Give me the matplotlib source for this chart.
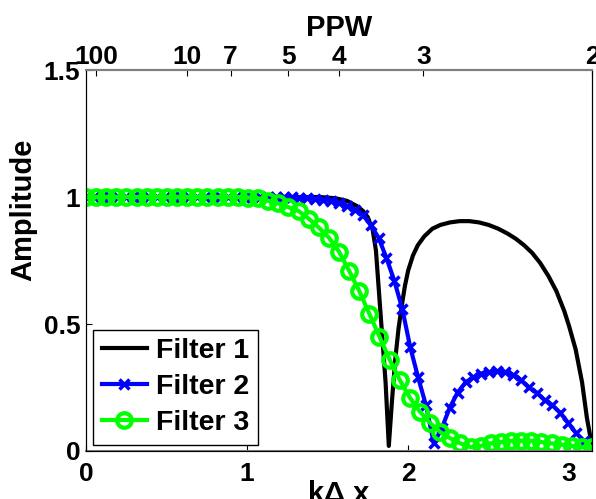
import numpy as np
import matplotlib.pyplot as plt

plt.rcParams['font.family'] = ['Liberation Sans', 'DejaVu Sans']
plt.rcParams['font.weight'] = 'bold'

# Filter 1 (plain black line)
kdx_f1 = [0.0, 0.5, 1.0, 1.3, 1.45, 1.55, 1.62, 1.68, 1.72, 1.75, 1.78, 1.80,
          1.83, 1.86, 1.88, 1.90, 1.92, 1.94, 1.96, 1.98, 2.0, 2.03, 2.06,
          2.10, 2.15, 2.20, 2.26, 2.32, 2.38, 2.44, 2.5, 2.56, 2.62, 2.67,
          2.72, 2.77, 2.82, 2.87, 2.92, 2.97, 3.0, 3.04, 3.08, 3.11, 3.1416]
amp_f1 = [1.0, 1.0, 1.0, 1.0, 1.0, 0.995, 0.985, 0.965, 0.945, 0.92, 0.87, 0.79,
          0.53, 0.27, 0.02, 0.20, 0.36, 0.48, 0.57, 0.65, 0.71, 0.77, 0.81,
          0.845, 0.875, 0.89, 0.90, 0.905, 0.905, 0.90, 0.89, 0.875, 0.855, 0.835,
          0.81, 0.78, 0.74, 0.69, 0.63, 0.55, 0.49, 0.40, 0.27, 0.13, 0.02]

# Filter 2 (blue, x markers) - 65 samples over [0, pi]
amp_f2 = [1.0] * 27 + [
    0.998, 0.995, 0.993, 0.99, 0.985, 0.975, 0.965, 0.95, 0.93, 0.89,
    0.84, 0.76, 0.67, 0.56, 0.41, 0.29, 0.18, 0.03, 0.09, 0.17,
    0.23, 0.27, 0.29, 0.305, 0.31, 0.315, 0.31, 0.30, 0.28, 0.25,
    0.23, 0.20, 0.18, 0.15, 0.11, 0.07, 0.04, 0.01]

# Filter 3 (green, circles) - 51 samples over [0, pi]
amp_f3 = [1.0] * 16 + [
    0.998, 0.995, 0.985, 0.975, 0.96, 0.945, 0.915, 0.88, 0.84, 0.785,
    0.71, 0.63, 0.54, 0.45, 0.36, 0.28, 0.21, 0.155, 0.11, 0.075,
    0.05, 0.03, 0.015, 0.02, 0.03, 0.035, 0.04, 0.04, 0.04, 0.035,
    0.03, 0.025, 0.02, 0.015, 0.015]

kdx_f2 = np.linspace(0, np.pi, len(amp_f2))
kdx_f3 = np.linspace(0, np.pi, len(amp_f3))

ppw_ticks = [100, 10, 7, 5, 4, 3, 2]

fig = plt.figure(figsize=(5.96, 4.99), dpi=100)
ax = fig.add_axes([0.1443, 0.0962, 0.8490, 0.7635])

ax.plot(kdx_f1, amp_f1, color='black', lw=3, label='Filter 1')
ax.plot(kdx_f2, amp_f2, color='#0000ff', lw=3, marker='x', ms=7, mew=2.5,
        label='Filter 2')
ax.plot(kdx_f3, amp_f3, color='#00ff00', lw=3, marker='o', ms=10.5, mew=3,
        mfc='none', label='Filter 3')

ax.set_xlim(0, np.pi)
ax.set_ylim(0, 1.5)
ax.set_xticks([0, 1, 2, 3])
ax.set_xticklabels(['0', '1', '2', '3'])
ax.set_yticks([0, 0.5, 1, 1.5])
ax.set_yticklabels(['0', '0.5', '1', '1.5'])
ax.tick_params(direction='in', length=4, labelsize=19, top=False, right=False)
ax.tick_params(axis='x', pad=8)
ax.tick_params(axis='y', pad=4)
for s in ['bottom', 'top']:
    ax.spines[s].set_color('#808080')
    ax.spines[s].set_linewidth(1.5)

ax.set_xlabel('k\u0394 x', fontsize=21, fontweight='bold')
ax.xaxis.set_label_coords(0.5, -0.075)
ax.set_ylabel('Amplitude', fontsize=21, fontweight='bold')
ax.yaxis.set_label_coords(-0.097, 0.633)

# Top axis: points per wavelength
ax2 = ax.twiny()
ax2.set_xlim(ax.get_xlim())
ax2.set_xticks([2 * np.pi / p for p in ppw_ticks])
ax2.set_xticklabels([str(p) for p in ppw_ticks])
ax2.tick_params(direction='in', length=4, labelsize=19, pad=1)
ax2.spines['top'].set_color('#808080')
ax2.spines['top'].set_linewidth(1.5)
ax2.set_xlabel('PPW', fontsize=21, fontweight='bold')
ax2.xaxis.set_label_coords(0.5, 1.09)

leg = ax.legend(loc='lower left', bbox_to_anchor=(0.014, 0.016), fontsize=20.5,
                frameon=True, fancybox=False, framealpha=1, edgecolor='black',
                handlelength=1.6, handletextpad=0.3, borderpad=0.3,
                labelspacing=0.35, borderaxespad=0)
leg.get_frame().set_linewidth(1)

fig.savefig('out.png', dpi=100)
